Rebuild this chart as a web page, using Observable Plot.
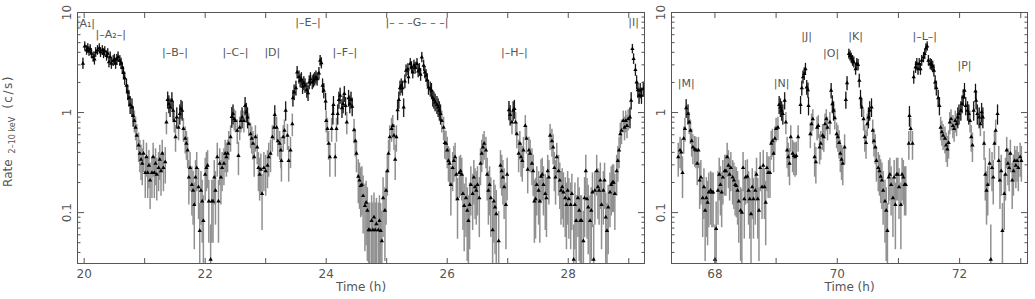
<!DOCTYPE html>
<html><head><meta charset="utf-8">
<script src="https://cdn.jsdelivr.net/npm/d3@7"></script>
<script src="https://cdn.jsdelivr.net/npm/@observablehq/plot@0.6"></script>
<style>
body{margin:0;background:#fff;}
#wrap{position:relative;width:1035px;height:299px;overflow:hidden;}
#wrap svg{position:absolute;top:0;}
</style></head><body><div id="wrap"></div>
<script>
const leftTimeRate = [[19.98,3.1],[20.01,4.6],[20.04,4.2],[20.06,4.4],[20.08,4.1],[20.10,4.3],[20.12,3.9],[20.15,3.6],[20.17,3.4],[20.19,4.0],[20.22,4.2],[20.25,4.4],[20.27,4.0],[20.30,4.2],[20.32,3.9],[20.34,4.1],[20.37,3.7],[20.39,3.9],[20.41,3.2],[20.43,3.6],[20.45,3.1],[20.48,3.3],[20.50,3.4],[20.52,3.1],[20.54,3.4],[20.56,3.6],[20.59,3.3],[20.61,3.1],[20.63,2.8],[20.65,2.5],[20.67,2.2],[20.70,1.86],[20.72,1.6],[20.74,1.4],[20.76,1.2],[20.79,1.13],[20.81,0.93],[20.83,0.83],[20.85,0.71],[20.87,0.59],[20.90,0.47],[20.92,0.39],[20.94,0.34],[20.96,0.31],[20.98,0.39],[21.01,0.25],[21.03,0.36],[21.05,0.25],[21.07,0.295],[21.09,0.21],[21.12,0.25],[21.14,0.36],[21.16,0.25],[21.18,0.31],[21.20,0.24],[21.23,0.28],[21.25,0.34],[21.27,0.26],[21.29,0.39],[21.31,0.28],[21.34,0.32],
[21.36,0.80],[21.38,1.34],[21.40,1.22],[21.42,1.13],[21.45,1.32],[21.47,1.05],[21.49,0.83],[21.51,0.57],[21.53,0.90],[21.56,0.71],[21.58,0.97],[21.60,1.09],[21.62,1.05],[21.64,0.69],[21.67,0.55],[21.69,0.49],[21.71,0.42],
[21.73,0.225],[21.75,0.28],[21.78,0.19],[21.80,0.166],[21.82,0.12],[21.84,0.225],[21.86,0.28],[21.89,0.18],[21.91,0.066],[21.93,0.166],[21.95,0.13],[21.97,0.083],[22.00,0.24],[22.02,0.28],[22.04,0.295],[22.06,0.13],[22.09,0.034],[22.11,0.13],[22.13,0.13],[22.15,0.225],[22.17,0.166],[22.20,0.36],[22.22,0.13],[22.24,0.31],[22.26,0.225],[22.28,0.28],[22.31,0.31],[22.33,0.39],[22.35,0.36],[22.37,0.39],[22.39,0.49],
[22.42,0.57],[22.44,0.91],[22.46,0.97],[22.48,0.86],[22.50,0.83],[22.53,0.66],[22.55,0.37],[22.57,0.71],[22.59,0.83],[22.61,0.90],[22.64,0.83],[22.66,1.17],[22.68,1.01],[22.70,0.90],[22.72,0.77],[22.75,0.61],[22.77,0.55],[22.79,0.49],[22.81,0.36],[22.83,0.57],[22.86,0.45],[22.88,0.28],[22.90,0.24],[22.92,0.27],[22.94,0.154],
[22.97,0.28],[23.00,0.26],[23.03,0.295],[23.05,0.36],[23.08,0.39],
[23.11,0.57],[23.14,0.71],[23.15,0.95],[23.18,0.71],[23.20,0.52],[23.23,0.49],[23.25,0.42],[23.26,0.33],[23.29,0.57],[23.31,0.66],[23.33,1.05],[23.36,0.59],[23.38,0.33],[23.41,0.42],[23.44,0.77],[23.45,1.40],[23.47,1.60],
[23.50,1.76],[23.52,2.53],[23.55,2.26],[23.57,2.09],[23.59,2.17],[23.61,1.82],[23.63,1.97],[23.65,1.86],[23.68,1.68],[23.70,1.57],[23.72,2.01],[23.74,2.17],[23.77,2.01],[23.79,2.09],[23.81,2.17],[23.83,2.26],[23.85,2.17],[23.88,2.47],[23.90,3.31],[23.92,3.13],[23.94,1.86],[23.96,1.66],[23.99,1.30],[24.00,0.83],[24.02,0.69],[24.04,0.49],[24.06,0.36],[24.09,0.69],[24.11,0.97],[24.12,1.2],[24.15,0.36],[24.17,0.69],[24.19,0.97],[24.21,1.34],[24.23,1.48],[24.26,1.11],[24.28,1.22],[24.30,1.54],[24.32,1.17],[24.34,0.80],[24.37,1.40],[24.39,1.22],[24.41,1.34],[24.43,1.15],
[24.46,0.67],[24.48,0.52],[24.50,0.39],[24.53,0.23],[24.55,0.21],[24.57,0.185],[24.59,0.19],[24.61,0.147],[24.64,0.117],[24.66,0.126],[24.68,0.105],[24.70,0.067],[24.72,0.067],[24.75,0.083],[24.77,0.067],[24.79,0.09],[24.81,0.067],[24.83,0.077],[24.86,0.067],[24.88,0.083],[24.90,0.066],[24.92,0.052],[24.94,0.14],[24.97,0.105],[24.99,0.166],[25.01,0.26],[25.03,0.39],[25.05,0.57],[25.08,0.69],[25.10,0.74],[25.12,0.59],[25.14,0.34],[25.16,0.57],
[25.18,1.06],[25.20,1.34],[25.22,1.76],[25.24,1.86],[25.26,1.76],[25.28,1.13],[25.30,2.05],[25.32,2.63],[25.35,2.71],[25.36,2.26],[25.39,3.07],[25.41,2.84],[25.43,2.53],[25.45,2.95],[25.47,2.80],[25.50,3.07],[25.52,2.59],[25.54,2.71],[25.56,2.40],[25.58,3.57],[25.61,2.95],[25.63,2.53],[25.65,2.34],[25.67,2.12],[25.69,1.79],[25.72,1.72],[25.74,1.66],[25.76,1.40],[25.78,1.34],[25.80,1.27],[25.83,1.20],[25.85,1.13],[25.87,1.05],[25.89,0.97],[25.91,0.83],[25.94,0.71],[25.96,0.50],
[25.98,0.49],[26.00,0.42],[26.02,0.33],[26.04,0.31],[26.06,0.19],[26.09,0.28],[26.11,0.33],[26.13,0.36],[26.15,0.24],[26.17,0.137],[26.20,0.25],[26.22,0.26],[26.24,0.24],[26.26,0.154],[26.28,0.117],[26.31,0.14],[26.33,0.105],[26.35,0.083],[26.37,0.12],[26.39,0.19],[26.42,0.154],[26.44,0.225],[26.46,0.18],[26.48,0.166],[26.50,0.19],[26.53,0.14],[26.55,0.31],[26.57,0.39],[26.59,0.45],[26.61,0.49],[26.64,0.42],[26.66,0.24],[26.68,0.166],[26.70,0.19],[26.72,0.14],[26.75,0.067],[26.77,0.13],[26.79,0.113],[26.81,0.097],[26.85,0.052],[26.88,0.295],[26.90,0.26],[26.92,0.225],[26.94,0.18],[26.97,0.12],[26.99,0.24],
[27.02,1.06],[27.04,0.95],[27.07,0.80],[27.09,1.05],[27.11,1.09],[27.13,0.80],[27.15,0.61],[27.18,0.39],[27.20,0.49],[27.22,0.36],[27.24,0.33],[27.26,0.42],[27.29,0.74],[27.31,0.55],[27.33,0.27],[27.35,0.42],[27.37,0.39],[27.40,0.31],[27.42,0.26],[27.44,0.13],[27.46,0.137],[27.48,0.19],[27.51,0.166],[27.53,0.13],[27.55,0.23],[27.57,0.24],[27.59,0.19],[27.62,0.154],[27.64,0.14],[27.66,0.26],[27.68,0.225],[27.70,0.59],[27.73,0.52],[27.75,0.45],[27.77,0.28],[27.79,0.225],[27.81,0.36],[27.84,0.26],[27.86,0.21],[27.88,0.166],[27.90,0.18],[27.92,0.16],[27.95,0.14],[27.97,0.12],[27.99,0.166],[28.01,0.137],[28.04,0.12],[28.06,0.154],[28.09,0.034],[28.11,0.12],[28.13,0.083],[28.16,0.14],[28.18,0.105],[28.20,0.083],[28.22,0.083],[28.25,0.052],[28.27,0.14],[28.29,0.26],[28.31,0.137],[28.33,0.113],[28.36,0.083],[28.38,0.105],[28.40,0.16],[28.42,0.034],[28.44,0.166],[28.47,0.26],[28.49,0.18],[28.51,0.166],[28.53,0.21],[28.55,0.12],[28.58,0.166],[28.60,0.21],[28.62,0.09],[28.64,0.066],[28.66,0.113],[28.69,0.16],[28.71,0.19],[28.73,0.20],[28.75,0.20],[28.77,0.154],[28.80,0.26],[28.82,0.33],[28.84,0.42],[28.86,0.61],[28.88,0.66],[28.91,0.83],[28.93,0.71],[28.95,0.83],[28.97,0.74],[28.99,0.86],[29.02,0.90],[29.04,1.32],[29.06,4.33],[29.08,3.44],[29.11,2.67],[29.13,2.01],[29.15,1.68],[29.17,1.48],[29.19,1.66],[29.21,1.48],[29.24,1.72]];

// second observation
const rightTimeRate = [[67.40,0.36],[67.43,0.42],[67.45,0.40],[67.47,0.25],[67.49,0.55],[67.51,0.69],[67.53,1.11],[67.56,0.97],[67.58,0.80],[67.60,0.66],[67.62,0.52],[67.64,0.45],[67.67,0.43],[67.69,0.42],[67.71,0.31],[67.73,0.42],[67.75,0.21],[67.77,0.225],[67.80,0.14],[67.82,0.18],[67.84,0.105],[67.86,0.14],[67.88,0.126],[67.90,0.16],[67.93,0.166],[67.95,0.16],[67.97,0.16],[68.00,0.034],[68.02,0.069],[68.05,0.166],[68.07,0.24],[68.09,0.19],[68.11,0.16],[68.13,0.225],[68.16,0.26],[68.18,0.26],[68.20,0.36],[68.22,0.295],[68.24,0.24],[68.26,0.28],[68.29,0.225],[68.31,0.21],[68.33,0.19],[68.35,0.185],[68.37,0.166],[68.39,0.13],[68.42,0.105],[68.44,0.10],[68.46,0.28],[68.48,0.137],[68.50,0.225],[68.53,0.23],[68.55,0.166],[68.57,0.137],[68.59,0.097],[68.61,0.18],[68.63,0.137],[68.66,0.166],[68.68,0.24],[68.70,0.137],[68.72,0.105],[68.74,0.28],[68.77,0.18],[68.79,0.295],[68.81,0.18],[68.83,0.126],[68.85,0.28],[68.87,0.25],[68.90,0.25],
[68.92,0.49],[68.94,0.52],[68.96,0.39],[68.98,0.55],[69.00,0.69],[69.03,0.71],[69.05,1.20],[69.07,1.13],[69.09,1.05],[69.11,0.97],[69.14,1.32],[69.16,0.80],[69.18,0.42],[69.20,0.36],[69.22,0.31],[69.24,0.57],[69.27,0.39],[69.29,0.37],[69.31,0.36],[69.33,0.37],[69.36,0.57],
[69.40,1.20],[69.42,1.76],[69.44,2.26],[69.46,2.44],[69.48,2.73],[69.50,1.79],[69.52,1.68],[69.53,1.17],[69.56,0.61],[69.58,0.77],[69.60,0.86],[69.63,0.36],[69.65,0.32],[69.67,0.71],[69.69,0.74],[69.71,0.45],[69.73,0.49],[69.76,0.59],[69.78,0.57],[69.80,0.77],[69.82,0.86],[69.84,0.71],[69.88,0.80],
[69.90,1.66],[69.92,1.22],[69.94,1.05],[69.96,0.88],[69.99,0.61],[70.01,0.57],[70.03,0.50],[70.05,0.39],[70.07,0.34],[70.09,0.31],[70.12,0.45],[70.14,1.34],[70.16,1.97],
[70.19,3.86],[70.21,3.7],[70.23,3.5],[70.25,3.31],[70.27,3.19],[70.30,2.73],[70.32,3.07],[70.34,3.0],[70.36,2.09],[70.38,1.40],[70.40,1.13],[70.43,0.86],[70.45,0.57],[70.47,0.50],[70.49,0.77],[70.51,0.90],[70.53,1.05],[70.56,1.13],[70.58,0.66],[70.60,0.52],[70.62,0.45],[70.64,0.33],[70.67,0.28],[70.69,0.26],[70.71,0.23],[70.73,0.21],[70.75,0.166],[70.78,0.13],[70.80,0.105],[70.82,0.066],[70.84,0.225],[70.86,0.24],[70.88,0.19],[70.91,0.14],[70.93,0.225],[70.95,0.12],[70.97,0.24],[70.99,0.24],[71.01,0.18],[71.04,0.12],[71.06,0.24],[71.08,0.225],[71.10,0.19],[71.12,0.19],
[71.17,0.49],[71.18,0.93],[71.20,0.69],[71.23,0.49],[71.25,2.26],[71.28,2.84],[71.30,3.07],[71.32,2.73],[71.34,3.07],[71.36,2.73],[71.38,3.31],[71.41,3.57],[71.43,3.86],[71.45,4.4],[71.47,4.6],[71.49,3.31],[71.52,3.07],[71.54,3.0],[71.56,2.88],[71.58,2.63],[71.60,2.01],[71.62,1.76],[71.65,1.40],[71.67,1.17],[71.69,0.71],[71.71,0.64],[71.73,0.59],[71.76,0.55],[71.78,0.47],[71.80,0.43],[71.82,0.50],[71.84,0.80],[71.86,0.86],[71.89,0.74],[71.91,0.69],[71.93,0.83],[71.95,0.77],[71.97,0.90],[71.99,0.97],[72.02,1.05],[72.04,1.22],[72.06,1.42],[72.08,1.66],[72.10,1.17],[72.13,1.05],[72.15,0.97],[72.17,0.83],[72.19,0.57],[72.21,0.47],[72.23,1.05],[72.26,1.63],[72.27,1.32],[72.29,0.97],[72.32,0.90],[72.34,0.77],[72.36,1.01],[72.38,0.90],[72.40,0.49],[72.42,0.24],[72.44,0.166],[72.46,0.19],[72.49,0.31],[72.51,0.034],[72.53,0.28],[72.55,0.225],[72.57,0.49],[72.59,0.66],[72.62,0.97],[72.64,0.33],[72.66,0.21],[72.68,0.26],[72.70,0.066],[72.73,0.154],[72.75,0.24],[72.77,0.42],[72.79,0.31],[72.81,0.28],[72.83,0.39],[72.86,0.21],[72.88,0.26],[72.90,0.33],[72.92,0.295],[72.94,0.33],[72.96,0.28],[72.99,0.36],[73.01,0.33]];

// segment annotations: label, centre time (h), rate level (c/s)
const leftSegLabels = ["|A\u2081|","|\u2013A\u2082\u2013|","|\u2013B\u2013|","|\u2013C\u2013|","|D|","|\u2013E\u2013|","|\u2013F\u2013|","|\u2013 \u2013 \u2013G\u2013 \u2013 \u2013|","|\u2013H\u2013|","|I|"];
const leftSegTimes  = [20.02, 20.44, 21.50, 22.50, 23.11, 23.70, 24.31, 25.50, 27.11, 29.08];
const leftSegRates  = [7.8, 6.0, 4.0, 4.0, 4.0, 7.9, 4.0, 7.9, 4.0, 7.9];
const rightSegLabels = ["|M|","|N|","|J|","|O|","|K|","|\u2013L\u2013|","|P|"];
const rightSegTimes  = [67.53, 69.09, 69.50, 69.90, 70.30, 71.43, 72.08];
const rightSegRates  = [1.95, 1.95, 5.75, 3.9, 5.75, 5.75, 2.95];

const yMajor = [0.1, 1, 10];
const yMajorLabels = ["0.1", "1", "10"];
const yMinor = [0.04,0.05,0.06,0.07,0.08,0.09,0.2,0.3,0.4,0.5,0.6,0.7,0.8,0.9,2,3,4,5,6,7,8,9];
const leftHours = [20,21,22,23,24,25,26,27,28,29];
const leftHourLabels = [20,22,24,26,28];
const rightHours = [68,69,70,71,72,73];
const rightHourLabels = [68,70,72];

const AX = "#555";
const FONT = "'DejaVu Sans', sans-serif";

function rows(pairs) {
  // approximate counting-statistics error bars
  return pairs.map(([t, v]) => {
    const e = Math.sqrt(0.05 * v);
    return {t, v, lo: Math.max(v - e, 0.02), hi: v + e};
  });
}

function panel({pairs, xDomain, width, marginLeft, marginRight, hours, hourLabels, segL, segT, segR}) {
  const data = rows(pairs);
  const segs = segL.map((s, i) => ({s, t: segT[i], r: segR[i]}));
  return Plot.plot({
    width, height: 299, marginTop: 12, marginBottom: 36, marginLeft, marginRight,
    x: {domain: xDomain, axis: null},
    y: {type: "log", domain: [0.031, 10], axis: null},
    style: {background: "transparent", fontFamily: FONT},
    marks: [
      Plot.ruleX(data, {x: "t", y1: "lo", y2: "hi", stroke: "#909090", strokeWidth: 1.5, clip: true}),
      Plot.ruleX(data.filter(d => d.v >= 0.9), {x: "t", y1: "lo", y2: "hi", stroke: "#111", strokeWidth: 1, clip: true}),
      Plot.dot(data, {x: "t", y: "v", symbol: "triangle", r: 1.6, fill: "#000", stroke: "none", clip: true}),
      Plot.frame({stroke: AX}),
      Plot.axisY({anchor: "left", ticks: yMajor, tickSize: -7, tickFormat: () => "", stroke: AX, label: null}),
      Plot.axisY({anchor: "left", ticks: yMinor, tickSize: -3.5, tickFormat: () => "", stroke: AX, label: null}),
      Plot.axisY({anchor: "right", ticks: yMajor, tickSize: -7, tickFormat: () => "", stroke: AX, label: null}),
      Plot.axisY({anchor: "right", ticks: yMinor, tickSize: -3.5, tickFormat: () => "", stroke: AX, label: null}),
      Plot.axisX({anchor: "bottom", ticks: hours, tickSize: -5, tickFormat: () => "", stroke: AX, label: null}),
      Plot.axisX({anchor: "top", ticks: hours, tickSize: -5, tickFormat: () => "", stroke: AX, label: null}),
      Plot.text(yMajor, {y: d => d, text: (d, i) => yMajorLabels[i], frameAnchor: "left", dx: -10, rotate: -90, textAnchor: "middle", lineAnchor: "middle", fontSize: 12, fill: AX}),
      Plot.text(hourLabels, {x: d => d, text: d => String(d), frameAnchor: "bottom", dy: 11, lineAnchor: "middle", fontSize: 12, fill: AX}),
      Plot.text(["Time (h)"], {frameAnchor: "bottom", dy: 24, lineAnchor: "middle", fontSize: 12, fill: AX}),
      Plot.text(segs, {x: "t", y: "r", text: "s", fontSize: 11, fill: "#555", lineAnchor: "middle"})
    ]
  });
}

const wrap = document.getElementById("wrap");
const left = panel({pairs: leftTimeRate, xDomain: [19.89, 29.26], width: 650, marginLeft: 77, marginRight: 6,
  hours: leftHours, hourLabels: leftHourLabels, segL: leftSegLabels, segT: leftSegTimes, segR: leftSegRates});
left.style.left = "0px";
wrap.appendChild(left);
const right = panel({pairs: rightTimeRate, xDomain: [67.29, 73.11], width: 385, marginLeft: 21, marginRight: 8,
  hours: rightHours, hourLabels: rightHourLabels, segL: rightSegLabels, segT: rightSegTimes, segR: rightSegRates});
right.style.left = "650px";
wrap.appendChild(right);

// y-axis title with subscript
const title = d3.select(left).append("text")
  .attr("transform", "translate(12,131) rotate(-90)")
  .attr("text-anchor", "middle").attr("fill", AX)
  .style("font-family", FONT).style("font-size", "12px");
title.append("tspan").text("Rate");
title.append("tspan").attr("dx", 6).attr("dy", 3).style("font-size", "8px").text("2\u201310 keV");
title.append("tspan").attr("dx", 8).attr("dy", -3).style("letter-spacing", "1.5px").text("(c/s)");
</script>
</body></html>
